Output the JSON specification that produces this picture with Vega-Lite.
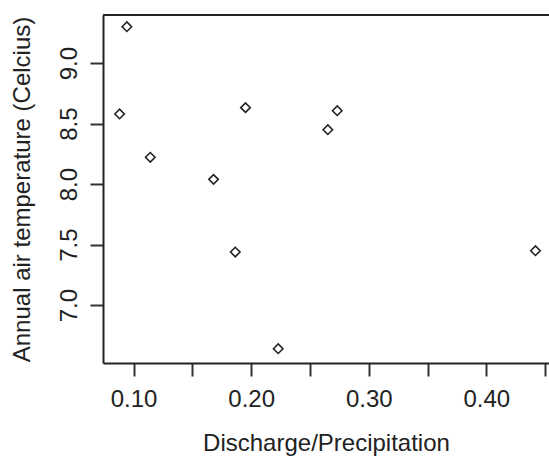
{
  "$schema": "https://vega.github.io/schema/vega-lite/v6.json",
  "width": 446,
  "height": 348,
  "autosize": {"type": "none"},
  "padding": {"left": 103, "top": 15, "right": 0, "bottom": 94},
  "background": "white",
  "config": {"view": {"stroke": null}, "font": "Liberation Sans"},
  "data": {
    "values": [
      {"ratio": 0.0943, "temp": 9.300},
      {"ratio": 0.0881, "temp": 8.579},
      {"ratio": 0.1142, "temp": 8.221},
      {"ratio": 0.1680, "temp": 8.039},
      {"ratio": 0.1952, "temp": 8.631},
      {"ratio": 0.2652, "temp": 8.449},
      {"ratio": 0.2732, "temp": 8.606},
      {"ratio": 0.1865, "temp": 7.438},
      {"ratio": 0.2230, "temp": 6.639},
      {"ratio": 0.4418, "temp": 7.449}
    ]
  },
  "layer": [
    {
      "mark": {"type": "point", "shape": "diamond", "filled": false, "stroke": "#222222", "strokeWidth": 1.6, "size": 90, "opacity": 1},
      "encoding": {
        "x": {
          "field": "ratio",
          "type": "quantitative",
          "scale": {"domain": [0.074, 0.4533], "nice": false, "zero": false},
          "axis": {
            "title": "Discharge/Precipitation",
            "values": [0.1, 0.15, 0.2, 0.25, 0.3, 0.35, 0.4, 0.45],
            "labelExpr": "round(datum.value*20)%2==0 ? format(datum.value,'.2f') : ''",
            "grid": false,
            "tickSize": 13,
            "tickWidth": 2,
            "tickColor": "#333333",
            "domainColor": "#222222",
            "domainWidth": 2,
            "labelFontSize": 24,
            "labelPadding": 11,
            "labelColor": "#222222",
            "labelFlush": false,
            "labelOverlap": false,
            "titleFontSize": 24,
            "titleFontWeight": "normal",
            "titleColor": "#222222",
            "titleY": 87,
            "titleBaseline": "alphabetic"
          }
        },
        "y": {
          "field": "temp",
          "type": "quantitative",
          "scale": {"domain": [6.521, 9.397], "nice": false, "zero": false},
          "axis": {
            "title": "Annual air temperature (Celcius)",
            "values": [7, 7.5, 8, 8.5, 9],
            "format": ".1f",
            "grid": false,
            "tickSize": 13,
            "tickWidth": 2,
            "tickColor": "#333333",
            "domainColor": "#222222",
            "domainWidth": 2,
            "labelFontSize": 24,
            "labelAngle": 270,
            "labelAlign": "center",
            "labelBaseline": "alphabetic",
            "labelPadding": 14,
            "labelColor": "#222222",
            "labelFlush": false,
            "labelOverlap": false,
            "titleFontSize": 24,
            "titleFontWeight": "normal",
            "titleColor": "#222222",
            "titleAngle": 270,
            "titleAlign": "center",
            "titleBaseline": "alphabetic",
            "titleX": -74,
            "titleY": 174
          }
        }
      }
    },
    {
      "mark": {"type": "rule", "stroke": "#222222", "strokeWidth": 2},
      "encoding": {"y": {"datum": 9.397, "type": "quantitative"}}
    }
  ]
}
